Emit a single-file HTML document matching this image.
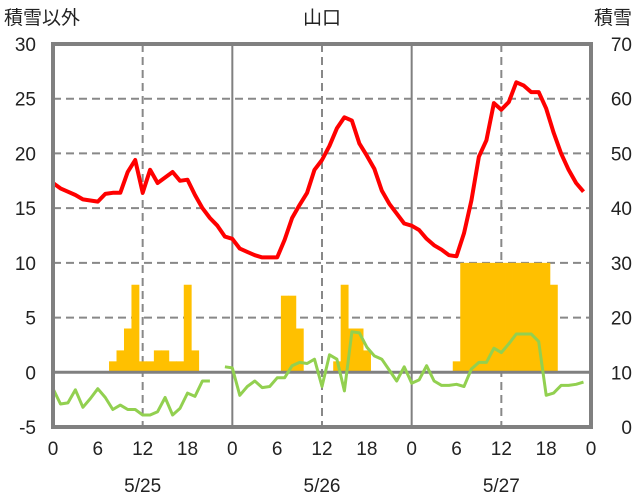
<!DOCTYPE html>
<html><head><meta charset="utf-8"><style>
body{margin:0;background:#fff;}
svg{display:block;font-family:"Liberation Sans","Noto Sans CJK JP",sans-serif;}
</style></head><body>
<svg id="chart" width="636" height="501" viewBox="0 0 636 501"></svg>
<script>
const hours = Array.from({length:72},(_,i)=>i);
const tempValues = [17.3,16.8,16.5,16.2,15.8,15.7,15.6,16.3,16.4,16.4,18.3,19.4,16.4,18.5,17.3,17.8,18.3,17.5,17.6,16.2,15.0,14.1,13.4,12.4,
12.2,11.3,11.0,10.7,10.5,10.5,10.5,12.1,14.1,15.3,16.4,18.5,19.4,20.7,22.3,23.3,23.0,20.9,19.8,18.6,16.6,15.4,14.5,13.6,
13.4,13.0,12.2,11.6,11.2,10.7,10.6,12.7,15.7,19.7,21.2,24.6,24.0,24.7,26.5,26.2,25.6,25.6,24.1,21.9,20.0,18.5,17.3,16.5];
const secondValues = [-1.5,-2.9,-2.8,-1.6,-3.2,-2.4,-1.5,-2.3,-3.4,-3.0,-3.4,-3.4,-3.9,-3.9,-3.6,-2.3,-3.9,-3.3,-1.9,-2.2,-0.8,-0.8,null,0.5,
0.4,-2.1,-1.3,-0.8,-1.4,-1.3,-0.5,-0.5,0.6,0.9,0.8,1.2,-1.3,1.6,1.2,-1.7,3.7,3.6,2.3,1.5,1.2,0.2,-0.8,0.5,
-1.0,-0.7,0.6,-0.8,-1.2,-1.2,-1.1,-1.3,0.3,0.9,0.9,2.2,1.8,2.6,3.5,3.5,3.5,2.8,-2.1,-1.9,-1.2,-1.2,-1.1,-0.9];
const snowHours = [8,9,10,11,12,13,14,15,16,17,18,19,31,32,33,38,39,40,41,42,54,55,56,57,58,59,60,61,62,63,64,65,66,67];
const snowValues = [12,14,18,26,12,12,14,14,12,12,26,14,24,24,18,12,26,18,18,14,12,30,30,30,30,30,30,30,30,30,30,30,30,26];
const leftTicks = [-5,0,5,10,15,20,25,30];
const rightTicks = [0,10,20,30,40,50,60,70];
const xTickLabels = ["0","6","12","18"];
const dateLabels = ["5/25","5/26","5/27"];

const svg=document.getElementById('chart');
const NS='http://www.w3.org/2000/svg';
const L=53,R=591,T=44,B=427;
const xs=h=>L+(R-L)*h/72;
const yl=v=>B-(v+5)/35*(B-T);
const yr=v=>B-v/70*(B-T);
function mk(tag,attrs,parent){const e=document.createElementNS(NS,tag);for(const k in attrs)e.setAttribute(k,attrs[k]);(parent||svg).appendChild(e);return e;}
function txt(s,x,y,anchor,size,name){const e=mk('text',{x:x,y:y,'text-anchor':anchor,'font-size':size,fill:'#222'});e.textContent=s;


return e;}

// gridlines
leftTicks.forEach(v=>{ if(v===0||v===30||v===-5)return;
 const g=mk('line',{x1:L,x2:R,y1:yl(v),y2:yl(v),stroke:'#888','stroke-width':2,'stroke-dasharray':'8,5'});
 
 
});
[12,36,60].forEach(h=>{const g=mk('line',{x1:xs(h),x2:xs(h),y1:T,y2:B,stroke:'#888','stroke-width':2,'stroke-dasharray':'8,5'});
 
 
});
// bars
const bw=(R-L)/72;
snowHours.forEach((h,i)=>{const b=mk('rect',{x:xs(h)-bw/2,y:yr(snowValues[i]),width:bw+0.4,height:yr(10)-yr(snowValues[i]),fill:'#FFC000'});
 
 
});
// day separators & zero line
[24,48].forEach(h=>{const g=mk('line',{x1:xs(h),x2:xs(h),y1:T,y2:B,stroke:'#808080','stroke-width':2});
 
 
});
const z=mk('line',{x1:L,x2:R,y1:yl(0),y2:yl(0),stroke:'#808080','stroke-width':3});


// lines
function path(vals,color,name){let d='',pen=false;vals.forEach((v,i)=>{if(v===null){pen=false;return;}d+=(pen?'L':'M')+xs(hours[i]).toFixed(1)+','+yl(v).toFixed(1);pen=true;});
 const p=mk('path',{d:d,fill:'none',stroke:color,'stroke-width':name==='temperature-line'?4:3,'stroke-linejoin':'round'});
 
 
}
path(secondValues,'#92D050','secondary-line');
path(tempValues,'#FF0000','temperature-line');
// frame
const f=mk('rect',{x:L,y:T,width:R-L,height:B-T,fill:'none',stroke:'#808080','stroke-width':4});


// ticks
leftTicks.forEach(v=>txt(String(v),36,yl(v)+7,'end',19,'left-tick-label'));
rightTicks.forEach(v=>txt(String(v),632,yr(v)+7,'end',19,'right-tick-label'));
for(let d=0;d<3;d++){xTickLabels.forEach((s,i)=>txt(s,xs(d*24+i*6),455,'middle',19,'x-tick-label'));}
txt('0',xs(72),455,'middle',19,'x-tick-label');
dateLabels.forEach((s,i)=>txt(s,xs(i*24+12),492,'middle',19,'date-label'));
txt('山口',322,24,'middle',19,'chart-title');
txt('積雪以外',4,24,'start',19,'left-axis-title');
txt('積雪',632,24,'end',19,'right-axis-title');
</script>
</body></html>
